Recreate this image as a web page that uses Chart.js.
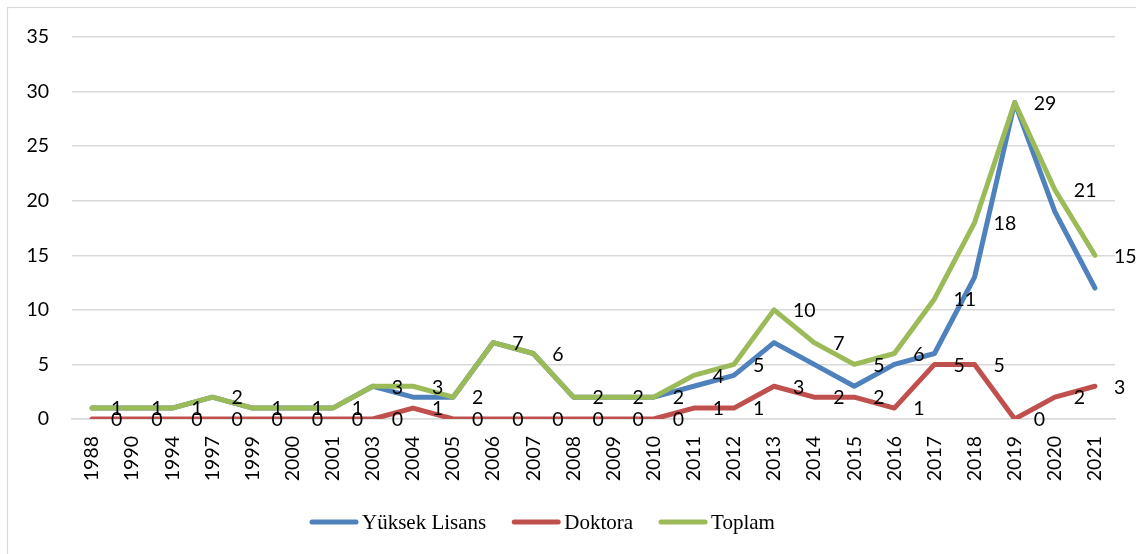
<!DOCTYPE html>
<html>
<head>
<meta charset="utf-8">
<script src="https://cdn.jsdelivr.net/npm/chart.js@4.4.1/dist/chart.umd.min.js"></script>
<style>
  html, body { margin: 0; padding: 0; background: #fff; }
  #wrap { width: 1136px; height: 554px; position: relative; }
</style>
</head>
<body>
<div id="wrap"><canvas id="c" width="1136" height="554"></canvas></div>
<script>
const categories = ['1988','1990','1994','1997','1999','2000','2001','2003','2004','2005','2006','2007','2008','2009','2010','2011','2012','2013','2014','2015','2016','2017','2018','2019','2020','2021'];
const yuksekLisans = [1,1,1,2,1,1,1,3,2,2,7,6,2,2,2,3,4,7,5,3,5,6,13,29,19,12];
const doktora      = [0,0,0,0,0,0,0,0,1,0,0,0,0,0,0,1,1,3,2,2,1,5,5,0,2,3];
const toplam       = [1,1,1,2,1,1,1,3,3,2,7,6,2,2,2,4,5,10,7,5,6,11,18,29,21,15];
const yTicks = [0,5,10,15,20,25,30,35];
const seriesNames = ['Yüksek Lisans','Doktora','Toplam'];
const seriesColors = ['#4F81BD','#C0504D','#9BBB59'];

const tickFont = { family: 'Lato', size: 19.5 };

const borderPlugin = {
  id: 'frame',
  beforeDraw(chart) {
    const ctx = chart.ctx;
    ctx.save();
    ctx.fillStyle = '#fff';
    ctx.fillRect(0, 0, chart.width, chart.height);
    ctx.strokeStyle = '#d9d9d9';
    ctx.lineWidth = 1.2;
    ctx.strokeRect(7.5, 7.5, chart.width + 20, chart.height + 20);
    ctx.restore();
  }
};

const labelPlugin = {
  id: 'pointLabels',
  afterDatasetsDraw(chart) {
    const ctx = chart.ctx;
    ctx.save();
    ctx.font = '19.5px Lato';
    ctx.fillStyle = '#000';
    ctx.textAlign = 'left';
    ctx.textBaseline = 'middle';
    [1, 2].forEach(di => {
      const meta = chart.getDatasetMeta(di);
      const data = chart.data.datasets[di].data;
      meta.data.forEach((pt, i) => {
        ctx.fillText(String(data[i]), pt.x + 19, pt.y + 1);
      });
    });
    ctx.restore();
  }
};

const legendPlugin = {
  id: 'customLegend',
  afterDraw(chart) {
    const ctx = chart.ctx;
    ctx.save();
    ctx.font = '21px "Liberation Serif"';
    ctx.textBaseline = 'middle';
    ctx.textAlign = 'left';
    let x = 310;
    const y = 522;
    chart.data.datasets.forEach(ds => {
      ctx.strokeStyle = ds.borderColor;
      ctx.lineWidth = 5;
      ctx.lineCap = 'round';
      ctx.beginPath();
      ctx.moveTo(x + 2, y);
      ctx.lineTo(x + 46, y);
      ctx.stroke();
      ctx.fillStyle = '#000';
      ctx.fillText(ds.label, x + 52, y + 1);
      x += 52 + ctx.measureText(ds.label).width + 26;
    });
    ctx.restore();
  }
};

new Chart(document.getElementById('c'), {
  type: 'line',
  data: {
    labels: categories,
    datasets: [
      { label: seriesNames[0], data: yuksekLisans, borderColor: seriesColors[0], backgroundColor: seriesColors[0], order: 3 },
      { label: seriesNames[1], data: doktora, borderColor: seriesColors[1], backgroundColor: seriesColors[1], order: 2 },
      { label: seriesNames[2], data: toplam, borderColor: seriesColors[2], backgroundColor: seriesColors[2], order: 1 }
    ].map(d => Object.assign(d, { borderWidth: 5, pointRadius: 0, tension: 0, fill: false, borderJoinStyle: 'round', borderCapStyle: 'round' }))
  },
  options: {
    responsive: false,
    animation: false,
    devicePixelRatio: 1,
    layout: { padding: { left: 0, right: 21, top: 37, bottom: 0 } },
    plugins: { legend: { display: false }, tooltip: { enabled: false } },
    scales: {
      x: {
        type: 'category',
        offset: true,
        grid: { display: false, drawTicks: false },
        border: { display: true, color: '#d9d9d9', width: 1.5 },
        ticks: { color: '#000', font: tickFont, minRotation: 90, maxRotation: 90, padding: 17, autoSkip: false },
        afterFit(scale) { scale.height = 135; }
      },
      y: {
        min: 0, max: 35,
        afterBuildTicks(scale) { scale.ticks = yTicks.map(v => ({ value: v })); },
        grid: { color: '#d9d9d9', lineWidth: 1.5, drawTicks: false },
        border: { display: false },
        ticks: { color: '#000', font: tickFont, padding: 23 },
        afterFit(scale) { scale.width = 72; }
      }
    }
  },
  plugins: [borderPlugin, labelPlugin, legendPlugin]
});
</script>
</body>
</html>
